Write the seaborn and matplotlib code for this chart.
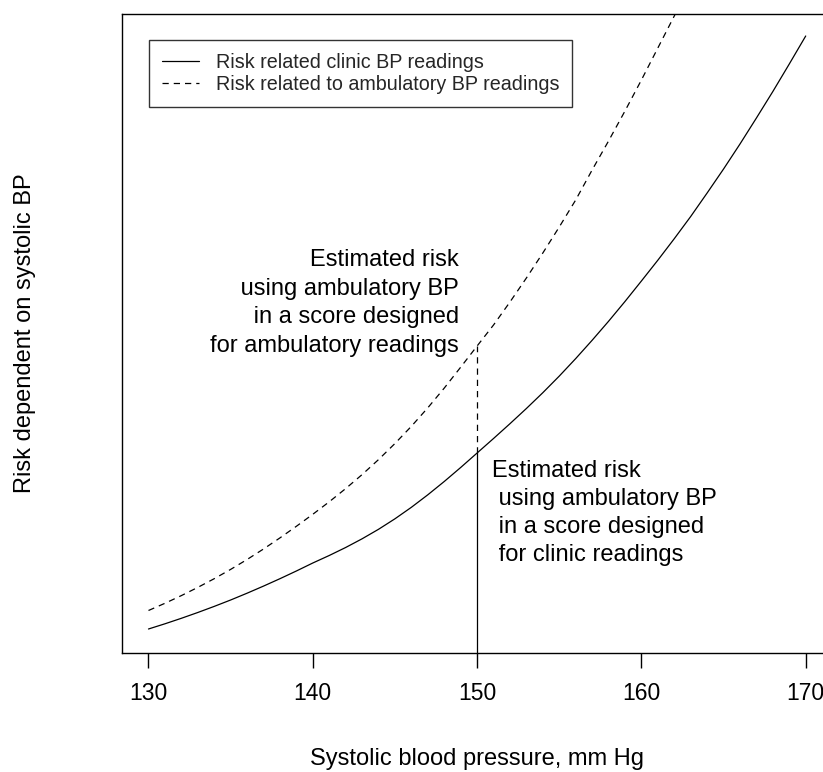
import matplotlib
matplotlib.use("Agg")
import matplotlib.pyplot as plt
import seaborn as sns
import numpy as np
import pandas as pd

# Systolic blood pressure (mm Hg)
bp_clinic = list(range(130, 171))
risk_clinic = [0.240, 0.292, 0.347, 0.405, 0.466, 0.530, 0.598, 0.669, 0.743, 0.820,
               0.900, 0.975, 1.055, 1.142, 1.237, 1.342, 1.457, 1.582, 1.715, 1.855,
               2.000, 2.145, 2.293, 2.445, 2.603, 2.769, 2.944, 3.127, 3.317, 3.515,
               3.720, 3.928, 4.143, 4.365, 4.600, 4.840, 5.090, 5.350, 5.615, 5.890,
               6.170]

bp_amb = list(range(130, 164))
risk_amb = [0.425, 0.497, 0.574, 0.656, 0.743, 0.836, 0.935, 1.040, 1.151, 1.267,
            1.387, 1.512, 1.644, 1.784, 1.934, 2.095, 2.267, 2.452, 2.649, 2.858,
            3.070, 3.280, 3.510, 3.750, 4.000, 4.260, 4.530, 4.830, 5.120, 5.420,
            5.730, 6.050, 6.370, 6.700]

mark_bp = 150
x_ticks = [130, 140, 150, 160, 170]

legend_labels = ["Risk related clinic BP readings",
                 "Risk related to ambulatory BP readings"]
note_amb = "Estimated risk\n using ambulatory BP\n in a score designed\nfor ambulatory readings"
note_clinic = "Estimated risk\n using ambulatory BP\n in a score designed\n for clinic readings"
x_label = "Systolic blood pressure, mm Hg"
y_label = "Risk dependent on systolic BP"

sns.set_style("white")
plt.rcParams['font.family'] = ['Liberation Sans', 'DejaVu Sans']

W, H = 823, 772
fig = plt.figure(figsize=(W / 100, H / 100), dpi=100)
left_px, right_px, top_px, bottom_px = 122.2, 832.0, 14.0, 653.0
ax = fig.add_axes([left_px / W, 1 - bottom_px / H,
                   (right_px - left_px) / W, (bottom_px - top_px) / H])

df_c = pd.DataFrame({"bp": bp_clinic, "risk": risk_clinic})
df_a = pd.DataFrame({"bp": bp_amb, "risk": risk_amb})

sns.lineplot(data=df_c, x="bp", y="risk", color="black", linewidth=0.9,
             ax=ax, label=legend_labels[0])
sns.lineplot(data=df_a, x="bp", y="risk", color="black", linewidth=0.9,
             linestyle="--", ax=ax, label=legend_labels[1])
ax.lines[1].set_dashes((5, 4))

i_c = bp_clinic.index(mark_bp)
i_a = bp_amb.index(mark_bp)
ax.plot([mark_bp, mark_bp], [0, risk_clinic[i_c]], color="black", lw=0.9)
ax.plot([mark_bp, mark_bp], [risk_clinic[i_c], risk_amb[i_a]], color="black",
        lw=0.9, dashes=(5, 4))

ax.set_xlim(128.4, 171.6)
ax.set_ylim(0, 6.39)

ax.set_xticks(x_ticks)
ax.set_xticklabels([str(t) for t in x_ticks])
ax.set_yticks([])
ax.tick_params(axis="x", direction="out", length=11, width=1.0, pad=10,
               labelsize=16.5, bottom=True, colors="black")
for s in ax.spines.values():
    s.set_color("black")
    s.set_linewidth(1.0)

ax.set_xlabel(x_label, fontsize=17, labelpad=31, color="black")
ax.set_ylabel(y_label, fontsize=17, labelpad=62, color="black")

ax.text(148.9, 3.50, note_amb, ha="right", va="center", multialignment="right",
        fontsize=17, linespacing=1.40, color="black")
ax.text(150.9, 1.40, note_clinic, ha="left", va="center", multialignment="left",
        fontsize=17, linespacing=1.36, color="black")

leg = ax.legend(loc="upper left", bbox_to_anchor=((149 - left_px) / (right_px - left_px),
                                                  1 - (40 - top_px) / (bottom_px - top_px)),
                fontsize=14.2, frameon=True, fancybox=False, borderaxespad=0,
                handlelength=1.9, handletextpad=0.85, labelspacing=0.15,
                borderpad=0.65, edgecolor="black")
leg.get_frame().set_linewidth(1.0)

fig.savefig("out.png", dpi=100)
